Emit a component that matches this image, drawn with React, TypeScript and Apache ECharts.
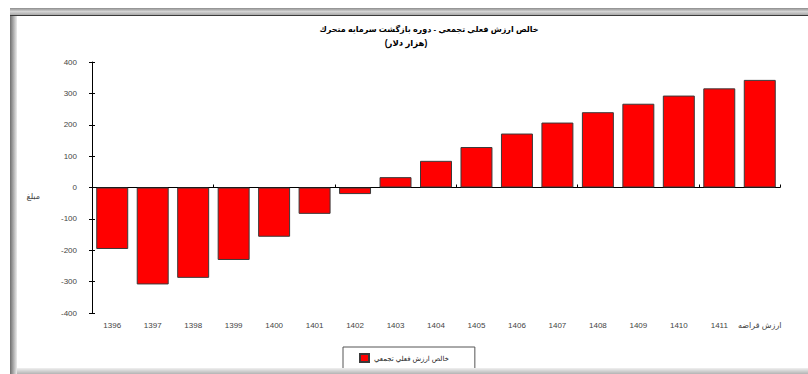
import { useEffect, useRef } from "react";
import * as echarts from "echarts";

const categories = [
  "1396", "1397", "1398", "1399", "1400", "1401", "1402", "1403", "1404",
  "1405", "1406", "1407", "1408", "1409", "1410", "1411", "ارزش قراضه",
];
const values = [-196, -309, -288, -231, -157, -84, -21, 33, 85, 129, 172, 207, 240, 267, 293, 316, 343];
const yMin = -400;
const yMax = 400;
const yInterval = 100;
const titleLine1 = "خالص ارزش فعلي تجمعي - دوره بازگشت سرمايه متحرك";
const titleLine2 = "(هزار دلار)";
const seriesName = "خالص ارزش فعلي تجمعي";
const yAxisName = "مبلغ";

const FONT = "'Liberation Sans', 'DejaVu Sans', Arial, sans-serif";

export default function App() {
  const ref = useRef<HTMLDivElement>(null);
  useEffect(() => {
    if (!ref.current) return;
    const chart = echarts.init(ref.current, undefined, { renderer: "svg" });
    const option = {
      animation: false,
      backgroundColor: "#ffffff",
      textStyle: { fontFamily: FONT },
      graphic: [
        {
          type: "rect",
          z: 100,
          shape: { x: 10, y: 8, width: 798, height: 7 },
          style: {
            fill: new echarts.graphic.LinearGradient(0, 0, 0, 1, [
              { offset: 0, color: "#8c8c8c" },
              { offset: 0.5, color: "#d4d4d4" },
              { offset: 1, color: "#a8a8a8" },
            ]),
          },
        },
        {
          type: "rect",
          z: 100,
          shape: { x: 10, y: 15, width: 798, height: 1 },
          style: { fill: "#3a3a3a" },
        },
        {
          type: "rect",
          z: 100,
          shape: { x: 10, y: 16, width: 7, height: 358 },
          style: {
            fill: new echarts.graphic.LinearGradient(0, 0, 1, 0, [
              { offset: 0, color: "#6e6e6e" },
              { offset: 0.4, color: "#a0a0a0" },
              { offset: 1, color: "#ececec" },
            ]),
          },
        },
        {
          type: "rect",
          z: 100,
          shape: { x: 17, y: 368, width: 791, height: 6 },
          style: {
            fill: new echarts.graphic.LinearGradient(0, 0, 0, 1, [
              { offset: 0, color: "#f0f0f0" },
              { offset: 1, color: "#b4b4b4" },
            ]),
          },
        },
        {
          type: "text",
          z: 100,
          style: {
            text: titleLine1,
            x: 429,
            y: 29,
            textAlign: "center",
            textVerticalAlign: "middle",
            font: `bold 8px ${FONT}`,
            fill: "#000",
          },
        },
        {
          type: "text",
          z: 100,
          style: {
            text: titleLine2,
            x: 406,
            y: 43,
            textAlign: "center",
            textVerticalAlign: "middle",
            font: `bold 8.5px ${FONT}`,
            fill: "#000",
          },
        },
      ],
      grid: { left: 92, right: 28, top: 62, bottom: 61, containLabel: false, outerBoundsMode: "none" },
      legend: {
        data: [seriesName],
        left: 343,
        top: 347,
        icon: "rect",
        itemWidth: 9,
        itemHeight: 8,
        borderColor: "#555",
        borderWidth: 1,
        padding: [6, 26, 6, 16],
        textStyle: { fontSize: 7, color: "#222", fontFamily: FONT },
      },
      xAxis: [
        {
          type: "category",
          data: categories,
          position: "bottom",
          axisLine: { show: false, onZero: false },
          axisTick: { show: false },
          axisLabel: { show: true, interval: 0, margin: 8, fontSize: 8, color: "#444", fontFamily: FONT },
          splitLine: { show: false },
        },
        {
          type: "category",
          data: categories,
          position: "top",
          axisLine: { show: true, onZero: true, lineStyle: { color: "#000", width: 1 } },
          axisTick: { show: true, length: 3, lineStyle: { color: "#000" } },
          axisLabel: { show: false },
          splitLine: { show: false },
        },
      ],
      yAxis: [
        {
          type: "value",
          min: yMin,
          max: yMax,
          interval: yInterval,
          position: "left",
          name: yAxisName,
          nameLocation: "middle",
          nameRotate: 0,
          nameGap: 52,
          nameTextStyle: { fontSize: 8, color: "#444", verticalAlign: "top", padding: [5, 0, 0, 0], fontFamily: FONT },
          axisLine: { show: true, lineStyle: { color: "#000", width: 1 } },
          axisTick: { show: true, length: 3, lineStyle: { color: "#000" } },
          axisLabel: { fontSize: 8, color: "#444", margin: 15, fontFamily: FONT },
          splitLine: { show: false },
        },
        {
          type: "value",
          min: yMin,
          max: yMax,
          interval: yInterval,
          position: "right",
          offset: -688,
          axisLine: { show: false },
          axisTick: { show: true, length: 3, lineStyle: { color: "#000" } },
          axisLabel: { show: false },
          splitLine: { show: false },
        },
      ],
      series: [
        {
          name: seriesName,
          type: "bar",
          data: values,
          barCategoryGap: "21%",
          itemStyle: { color: "#ff0000", borderColor: "#3a3a3a", borderWidth: 1 },
        },
      ],
    };
    chart.setOption(option as any);
    return () => chart.dispose();
  }, []);
  return (
    <div
      ref={ref}
      style={{ position: "absolute", left: 0, top: 0, width: 808, height: 374, background: "#fff" }}
    />
  );
}
